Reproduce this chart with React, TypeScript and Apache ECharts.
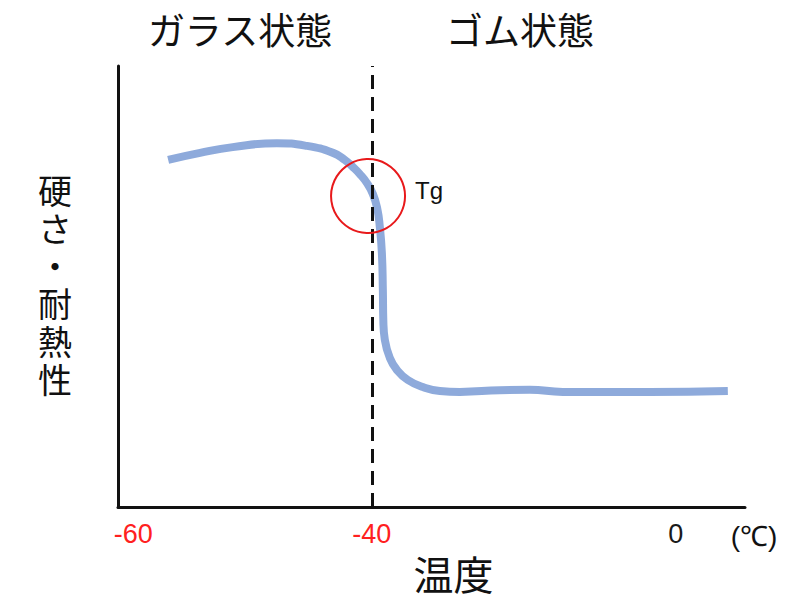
import React, { useEffect, useRef } from "react";
import * as echarts from "echarts";

// Temperature (°C) along the x axis, hardness/heat-resistance (relative) on y
const curveTemp = [-66.8, -62.6, -58.3, -52.5, -48.6, -45.1, -43.55, -42.5, -41.58, -40.66, -39.87, -39.3, -38.95, -38.68, -38.55, -38.49, -38.29, -37.63, -36.71, -35.26, -33.29, -31.05, -28.42, -23.16, -19.21, -14.87, -3.42, 6.84];
const curveValue = [78.7, 80.3, 81.6, 82.5, 81.9, 80.3, 78.7, 77.1, 75.5, 73.5, 71.0, 67.8, 63.5, 57.6, 49.2, 42.4, 37.9, 33.8, 31.1, 28.8, 27.2, 26.3, 26.1, 26.5, 26.6, 26.1, 26.1, 26.3];

const tickPositions = [-71.4, -40, 0];
const tickLabels = ["-60", "-40", "0"];
const tickColors = ["#ff2020", "#ff2020", "#1a1a1a"];

const tgTemp = -40;
const tgMarker = [-40.5, 70.5];
const regionLabels = ["ガラス状態", "ゴム状態"];
const yAxisTitle = "硬さ・耐熱性";
const unitLabel = "(℃)";

const X_MIN = -73.4;
const X_MAX = 9.1;

const JP = '"Noto Sans CJK JP", "Noto Sans", sans-serif';
const LAT = '"Liberation Sans", Arial, sans-serif';

export default function App() {
  const ref = useRef<HTMLDivElement>(null);
  useEffect(() => {
    document.body.style.margin = "0";
    const chart = echarts.init(ref.current!, null, { renderer: "svg" });
    const lineData = curveTemp.map((t, i) => [t, curveValue[i]]);
    const labelFor = (v: number) => tickPositions.findIndex((p) => Math.abs(p - v) < 1e-6);
    const yChars = Array.from(yAxisTitle);
    const pitch = 37.8;
    const yMid = 284;
    const yTitleTexts = yChars.map((ch, i) => ({
      type: "text",
      x: 55,
      y: yMid + (i - (yChars.length - 1) / 2) * pitch,
      style: {
        text: ch,
        fontFamily: JP,
        fontSize: 34,
        fill: "#111",
        align: "center",
        verticalAlign: "middle",
      },
    }));
    chart.setOption({
      animation: false,
      backgroundColor: "#ffffff",
      grid: { left: 118, right: 59, top: 66, bottom: 104 },
      xAxis: {
        type: "value",
        min: X_MIN,
        max: X_MAX,
        axisLine: { show: true, onZero: false, lineStyle: { color: "#111", width: 3 } },
        axisTick: { show: false },
        splitLine: { show: false },
        axisLabel: {
          customValues: tickPositions,
          margin: 13,
          fontFamily: LAT,
          fontSize: 27,
          formatter: (v: number) => {
            const i = labelFor(v);
            return i >= 0 ? tickLabels[i] : "";
          },
          color: (v: any) => {
            const i = labelFor(Number(v));
            return i >= 0 ? tickColors[i] : "#111";
          },
        },
        name: "温度",
        nameLocation: "middle",
        nameGap: 46,
        nameTextStyle: {
          fontFamily: JP,
          fontSize: 40,
          color: "#111",
          padding: [0, 0, 0, 44],
        },
      },
      yAxis: {
        type: "value",
        min: 0,
        max: 100,
        axisLine: { show: true, onZero: false, lineStyle: { color: "#111", width: 3 } },
        axisTick: { show: false },
        axisLabel: { show: false },
        splitLine: { show: false },
      },
      series: [
        {
          type: "line",
          data: lineData,
          smooth: 0.5,
          showSymbol: false,
          symbol: "none",
          lineStyle: { color: "#8eaadb", width: 8 },
          markLine: {
            silent: true,
            symbol: ["none", "none"],
            label: { show: false },
            lineStyle: { color: "#111", width: 3, type: [14, 8] },
            data: [{ xAxis: tgTemp }],
          },
          markPoint: {
            silent: true,
            data: [
              {
                coord: tgMarker,
                symbol: "circle",
                symbolSize: 74,
                itemStyle: { color: "rgba(0,0,0,0)", borderColor: "#e8191b", borderWidth: 2 },
                label: {
                  show: true,
                  formatter: "Tg",
                  position: "right",
                  distance: 9,
                  offset: [0, -6],
                  fontFamily: LAT,
                  fontSize: 24,
                  color: "#111",
                },
              },
            ],
          },
        },
      ],
      graphic: [
        ...yTitleTexts,
        {
          type: "text",
          x: 240,
          y: 29,
          style: {
            text: regionLabels[0],
            fontFamily: JP,
            fontSize: 37,
            fill: "#111",
            align: "center",
            verticalAlign: "middle",
          },
        },
        {
          type: "text",
          x: 520,
          y: 29,
          style: {
            text: regionLabels[1],
            fontFamily: JP,
            fontSize: 37,
            fill: "#111",
            align: "center",
            verticalAlign: "middle",
          },
        },
        {
          type: "text",
          x: 754,
          y: 536,
          style: {
            text: unitLabel,
            fontFamily: LAT,
            fontSize: 28,
            fill: "#111",
            align: "center",
            verticalAlign: "middle",
          },
        },
      ],
    });
    return () => chart.dispose();
  }, []);
  return <div ref={ref} style={{ width: 804, height: 611 }} />;
}
